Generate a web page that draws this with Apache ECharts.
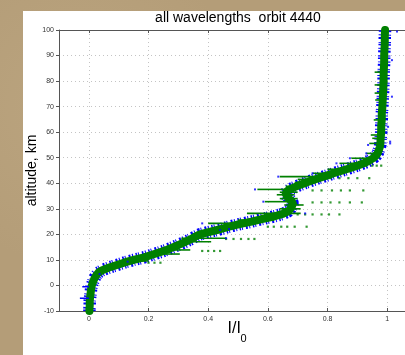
<!DOCTYPE html>
<html>
<head>
<meta charset="utf-8">
<script src="https://cdn.jsdelivr.net/npm/echarts@6/dist/echarts.min.js"></script>
<style>
  html, body { margin:0; padding:0; width:405px; height:355px; overflow:hidden; }
  body { background:#b49d78;
    background-image: radial-gradient(circle at 20% 30%, rgba(200,178,140,0.35), rgba(0,0,0,0) 40%),
                      radial-gradient(circle at 70% 80%, rgba(160,138,100,0.35), rgba(0,0,0,0) 45%); }
  #panel { position:absolute; left:23px; top:11px; width:382px; height:344px; background:#fff; }
  #c { position:absolute; left:0; top:0; width:405px; height:355px; }
</style>
</head>
<body>
<div id="panel"></div>
<div id="c"></div>
<script>
// ---- data ----
const altitudes = [-10,-9,-8,-7,-6,-5,-4,-3,-2,-1,0,1,2,3,4,5,6,7,8,9,10,11,12,13,14,15,16,17,18,19,20,
  21,22,23,24,25,26,27,28,29,30,31,32,33,34,35,36,37,38,39,40,41,42,43,44,45,46,47,48,49,50,
  51,52,53,54,55,57.5,60,62.5,65,67.5,70,72.5,75,77.5,80,82.5,85,87.5,90,92.5,95,97.5,100];
const intensity = [0.002,0.002,0.003,0.003,0.003,0.004,0.005,0.006,0.007,0.008,0.010,0.013,0.016,0.020,0.025,0.032,0.045,0.068,0.094,0.120,0.150,
  0.185,0.212,0.238,0.262,0.283,0.303,0.322,0.340,0.355,0.372,
  0.405,0.440,0.470,0.505,0.545,0.580,0.620,0.650,0.668,0.676,0.681,0.684,0.680,0.670,0.664,0.660,0.665,0.680,0.700,0.722,
  0.745,0.770,0.797,0.823,0.850,0.877,0.902,0.925,0.942,0.955,
  0.964,0.969,0.972,0.975,0.977,0.978,0.980,0.980,0.982,0.982,0.984,0.985,0.986,0.987,0.988,0.988,0.989,0.990,0.990,0.991,0.992,0.992,0.993];

// horizontal streaks: [altitude, I/I0 from, I/I0 to]
const greenSpikes = [
  [9.6,0.13,0.20],[12.3,0.20,0.305],[13.9,0.25,0.34],[17.1,0.30,0.41],[18.5,0.31,0.46],
  [22.1,0.40,0.47],[24.3,0.40,0.52],[25.6,0.50,0.62],[28.2,0.53,0.71],[30.0,0.64,0.71],
  [31.5,0.655,0.72],[32.8,0.59,0.685],[34.0,0.64,0.70],[35.5,0.63,0.69],[36.5,0.64,0.70],
  [37.6,0.565,0.67],[38.8,0.66,0.73],[40.3,0.69,0.76],[41.5,0.70,0.78],[42.6,0.64,0.78],
  [43.9,0.75,0.83],[45.5,0.80,0.86],[47.8,0.84,0.92],[49.8,0.88,0.955],[51.7,0.93,0.97],
  [55.6,0.94,0.977],[57.6,0.95,0.978],[58.9,0.945,0.98],[64.8,0.955,0.982],[72.6,0.96,0.985],
  [75.3,0.958,0.986],[78.5,0.958,0.987],[83.5,0.958,0.988]
];
const blueSpikes = [[-5,-0.03,0.0],[-0.5,-0.022,0.0]];
const bluePoints = [
  [1.033,99.4],[1.016,88.2],[1.016,73.9],[1.003,62.1],[1.01,55.6],[0.936,55],[1.01,56.3],
  [0.557,37.6],[0.585,32.8],[0.635,42.6],[0.44,21.7],[0.13,9.3],[0.036,4.5],[0.47,22.1],
  [0.93,51.7],[0.875,49.8],[0.83,47.8],[0.75,43.9],[0.725,28.2],[0.38,24.3],[0.46,18.5]
];
// rows of isolated green points
const dotRowAlt = [46.9, 42.0, 37.2, 32.5, 27.8, 23.0, 18.2, 13.5, 8.9];
const dotRowValues = [
  [0.90,0.93,0.95,0.965,0.98],
  [0.775,0.81,0.84,0.87,0.90,0.94],
  [0.75,0.78,0.815,0.845,0.875,0.92],
  [0.75,0.78,0.81,0.84,0.875,0.915],
  [0.70,0.725,0.75,0.78,0.805,0.84],
  [0.60,0.62,0.645,0.665,0.69,0.73],
  [0.46,0.485,0.51,0.535,0.555],
  [0.38,0.40,0.42,0.44],
  [0.20,0.22,0.24]
];
const xTickLabels = ['0','0.2','0.4','0.6','0.8','1'];

// ---- build ----
const profile = altitudes.map((a, i) => [intensity[i], a]);
const dots = [];
dotRowAlt.forEach((a, i) => dotRowValues[i].forEach(v => dots.push([v, a])));

const FONT = '"Liberation Sans", Arial, sans-serif';
const chart = echarts.init(document.getElementById('c'), null, {renderer:'canvas', width:405, height:355});

function spikeRenderer(color, width) {
  return function (params, api) {
    const a = api.coord([api.value(1), api.value(0)]);
    const b = api.coord([api.value(2), api.value(0)]);
    return { type:'line', shape:{x1:a[0], y1:a[1], x2:b[0], y2:b[1]},
             style:{stroke:color, lineWidth:width} };
  };
}

const gridLine = { show:true, lineStyle:{ color:'#c4c4c4', width:1, type:[1,3] } };

chart.setOption({
  animation:false,
  backgroundColor:'transparent',
  grid:{ left:59, top:30, width:358, height:281, show:false, outerBoundsMode:'none', containLabel:false },
  xAxis:[{
    type:'value', min:-0.1, max:1.1, splitNumber:5,
    axisLine:{ show:true, onZero:false, lineStyle:{ color:'#555', width:1 } },
    axisTick:{ show:true, inside:true, length:3, lineStyle:{ color:'#555' } },
    axisLabel:{ fontSize:7, color:'#333', margin:5, fontFamily:FONT,
      formatter:function (v) {
        const k = Math.round(v * 10);
        if (k < 0 || k % 2 !== 0) return '';
        return xTickLabels[k / 2] || '';
      } },
    splitLine:gridLine
  },{
    type:'value', min:-0.1, max:1.1, splitNumber:5, position:'top',
    axisLine:{ show:true, onZero:false, lineStyle:{ color:'#555', width:1 } },
    axisTick:{ show:true, inside:true, length:3, lineStyle:{ color:'#555' } },
    axisLabel:{ show:false }, splitLine:{ show:false }
  }],
  yAxis:{
    type:'value', min:-10, max:100, interval:10,
    axisLine:{ show:true, onZero:false, lineStyle:{ color:'#555', width:1 } },
    axisTick:{ show:true, inside:false, length:3, lineStyle:{ color:'#555' } },
    axisLabel:{ fontSize:7, color:'#333', margin:5, fontFamily:FONT },
    splitLine:gridLine
  },
  graphic:[
    { type:'text', x:238, y:18, style:{ text:'all wavelengths  orbit 4440', font:'14px ' + FONT, fill:'#000', textAlign:'center', textVerticalAlign:'middle' } },
    { type:'text', x:32, y:170.5, rotation:Math.PI/2, style:{ text:'altitude, km', font:'14px ' + FONT, fill:'#000', textAlign:'center', textVerticalAlign:'middle' } },
    { type:'text', x:227.5, y:329, style:{ text:'I/I', font:'16px ' + FONT, fill:'#000', textAlign:'left', textVerticalAlign:'middle' } },
    { type:'text', x:240.5, y:339, style:{ text:'0', font:'11px ' + FONT, fill:'#000', textAlign:'left', textVerticalAlign:'middle' } }
  ],
  series:[
    { type:'line', data:profile, symbol:'none', silent:true, z:1,
      lineStyle:{ color:'#0000ff', width:12.5, type:[1.5,1,1,3,2,1.5,1,2.5] } },
    { type:'line', data:profile, symbol:'none', silent:true, z:2,
      lineStyle:{ color:'#008000', width:8, join:'round', cap:'round' } },
    { type:'custom', data:greenSpikes, encode:{ x:[1,2], y:0 }, renderItem:spikeRenderer('#008000', 1.6), silent:true, z:3 },
    { type:'custom', data:blueSpikes, encode:{ x:[1,2], y:0 }, renderItem:spikeRenderer('#0000ff', 1.5), silent:true, z:3 },
    { type:'scatter', data:dots, symbol:'rect', symbolSize:2.2, itemStyle:{ color:'#008000' }, silent:true, z:3 },
    { type:'scatter', data:bluePoints, symbol:'rect', symbolSize:2, itemStyle:{ color:'#0000ff' }, silent:true, z:4 }
  ]
});
</script>
</body>
</html>
